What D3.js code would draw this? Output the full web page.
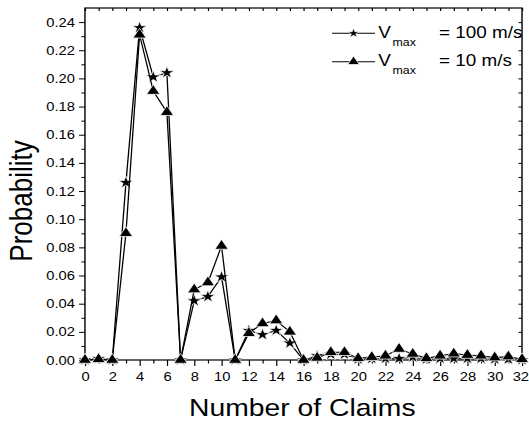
<!DOCTYPE html>
<html>
<head>
<meta charset="utf-8">
<script src="https://cdn.jsdelivr.net/npm/d3@7"></script>
<style>
  body { margin: 0; background: #fff; }
  text { font-family: "Liberation Sans", Arial, sans-serif; fill: #000; }
</style>
</head>
<body>
<div id="chart"></div>
<script>
// data
var claims = [0, 1, 2, 3, 4, 5, 6, 7, 8, 9, 10, 11, 12, 13, 14, 15, 16,
  17, 18, 19, 20, 21, 22, 23, 24, 25, 26, 27, 28, 29, 30, 31, 32];
var vmax100 = [0, 0.001, 0, 0.126, 0.236, 0.201, 0.204, 0, 0.042, 0.045, 0.059, 0,
  0.021, 0.018, 0.021, 0.012, 0, 0.003, 0.004, 0.004, 0.0005, 0.001, 0.001, 0.001,
  0.002, 0.0005, 0.001, 0.001, 0.001, 0.001, 0.0005, 0.0005, 0];
var vmax10 = [0, 0.0005, 0, 0.090, 0.231, 0.191, 0.176, 0, 0.050, 0.055, 0.081, 0,
  0.019, 0.026, 0.028, 0.020, 0, 0.0015, 0.0055, 0.0055, 0.0012, 0.002, 0.003, 0.0078,
  0.0043, 0.0012, 0.003, 0.0045, 0.0035, 0.003, 0.0017, 0.0024, 0.0005];
var seriesNames = ["= 100 m/s", "= 10 m/s"];
var xMajor = [0, 2, 4, 6, 8, 10, 12, 14, 16, 18, 20, 22, 24, 26, 28, 30, 32];
var yMajor = [0, 0.02, 0.04, 0.06, 0.08, 0.10, 0.12, 0.14, 0.16, 0.18, 0.20, 0.22, 0.24];
var yMinor = [0.01, 0.03, 0.05, 0.07, 0.09, 0.11, 0.13, 0.15, 0.17, 0.19, 0.21, 0.23];

var svgWidth = 529, svgHeight = 424;
// the original picture is stretched sideways, so draw narrow and scale x
var stretch = 1.18;

var plotLeft = 72, plotRight = 442.4, plotTop = 8, plotBottom = 360;

var svg = d3.select("#chart").append("svg")
  .attr("width", svgWidth)
  .attr("height", svgHeight);

var g = svg.append("g")
  .attr("transform", `scale(${stretch},1)`);

var x = d3.scaleLinear().domain([0, 32]).range([plotLeft, plotRight]);
var y = d3.scaleLinear().domain([0, 0.25]).range([plotBottom, plotTop]);

// bottom axis, major + minor ticks
var bottomAxis = d3.axisBottom(x).tickValues(xMajor).tickFormat(d3.format("d"))
  .tickSize(6).tickPadding(6.5);
var xAxisG = g.append("g").attr("transform", `translate(0,${plotBottom})`).call(bottomAxis);
g.append("g").attr("transform", `translate(0,${plotBottom})`)
  .call(d3.axisBottom(x).tickValues(claims.filter(d => d % 2 === 1)).tickSize(3.5).tickFormat(""));
// keep the last label inside the picture
xAxisG.selectAll(".tick text").filter(d => d === 32).attr("dx", -1.5);

// left axis
var leftAxis = d3.axisLeft(y).tickValues(yMajor).tickFormat(d3.format(".2f"))
  .tickSize(5).tickPadding(3.5);
g.append("g").attr("transform", `translate(${plotLeft},0)`).call(leftAxis);
g.append("g").attr("transform", `translate(${plotLeft},0)`)
  .call(d3.axisLeft(y).tickValues(yMinor).tickSize(3).tickFormat(""));

// top and right axes, ticks inward
g.append("g").attr("transform", `translate(0,${plotTop})`)
  .call(d3.axisBottom(x).tickValues(claims).tickSize(3).tickFormat(""));
g.append("g").attr("transform", `translate(${plotRight},0)`)
  .call(d3.axisLeft(y).tickValues(yMajor.concat(yMinor)).tickSize(3).tickFormat(""));

g.selectAll(".domain").remove();
g.selectAll(".tick line").attr("stroke", "#000").attr("stroke-width", 1);
g.selectAll(".tick text").attr("font-size", 12.5).attr("fill", "#000")
  .style("font-family", "'Liberation Sans', Arial, sans-serif");

// frame
g.append("rect")
  .attr("x", plotLeft).attr("y", plotTop)
  .attr("width", plotRight - plotLeft).attr("height", plotBottom - plotTop)
  .attr("fill", "none").attr("stroke", "#000").attr("stroke-width", 1.2);

// axis titles
g.append("text")
  .attr("x", (plotLeft + plotRight) / 2 - 1)
  .attr("y", 416)
  .attr("text-anchor", "middle")
  .attr("font-size", 24)
  .text("Number of Claims");

g.append("text")
  .attr("transform", "translate(27,201) rotate(-90)")
  .attr("text-anchor", "middle")
  .attr("font-size", 26)
  .text("Probability");

// lines and markers
var line = d3.line()
  .x((d, i) => x(claims[i]))
  .y(d => y(d));

var starSym = d3.symbol().type(d3.symbolStar).size(48);
var triSym = d3.symbol().type(d3.symbolTriangle).size(55);

function drawSeries(values, sym) {
  g.append("path")
    .datum(values)
    .attr("fill", "none")
    .attr("stroke", "#000")
    .attr("stroke-width", 1.1)
    .attr("d", line);
  g.selectAll(null)
    .data(values)
    .enter()
    .append("path")
    .attr("transform", (d, i) => `translate(${x(claims[i])},${y(d)})`)
    .attr("d", sym)
    .attr("fill", "#000")
    .attr("stroke", "#fff")
    .attr("stroke-width", 0.7);
}

drawSeries(vmax100, starSym);
drawSeries(vmax10, triSym);

// legend
var legendRows = [
  { sym: d3.symbol().type(d3.symbolStar).size(30), name: seriesNames[0], y: 33.3 },
  { sym: d3.symbol().type(d3.symbolTriangle).size(42), name: seriesNames[1], y: 61.7 }
];
legendRows.forEach(function(r) {
  g.append("line")
    .attr("x1", 281.4).attr("x2", 317.8)
    .attr("y1", r.y).attr("y2", r.y)
    .attr("stroke", "#000").attr("stroke-width", 1);
  g.append("path")
    .attr("transform", `translate(299.6,${r.y})`)
    .attr("d", r.sym)
    .attr("fill", "#000")
    .attr("stroke", "#fff")
    .attr("stroke-width", 0.7);
  var t = g.append("text")
    .attr("x", 320.5)
    .attr("y", r.y + 4.5)
    .attr("font-size", 16);
  t.append("tspan").text("V");
  t.append("tspan").attr("dx", 1.5).attr("dy", 7.8).attr("font-size", 10.5).text("max");
  t.append("tspan").attr("x", 372).attr("dy", -7.8).text(r.name);
});
</script>
</body>
</html>
